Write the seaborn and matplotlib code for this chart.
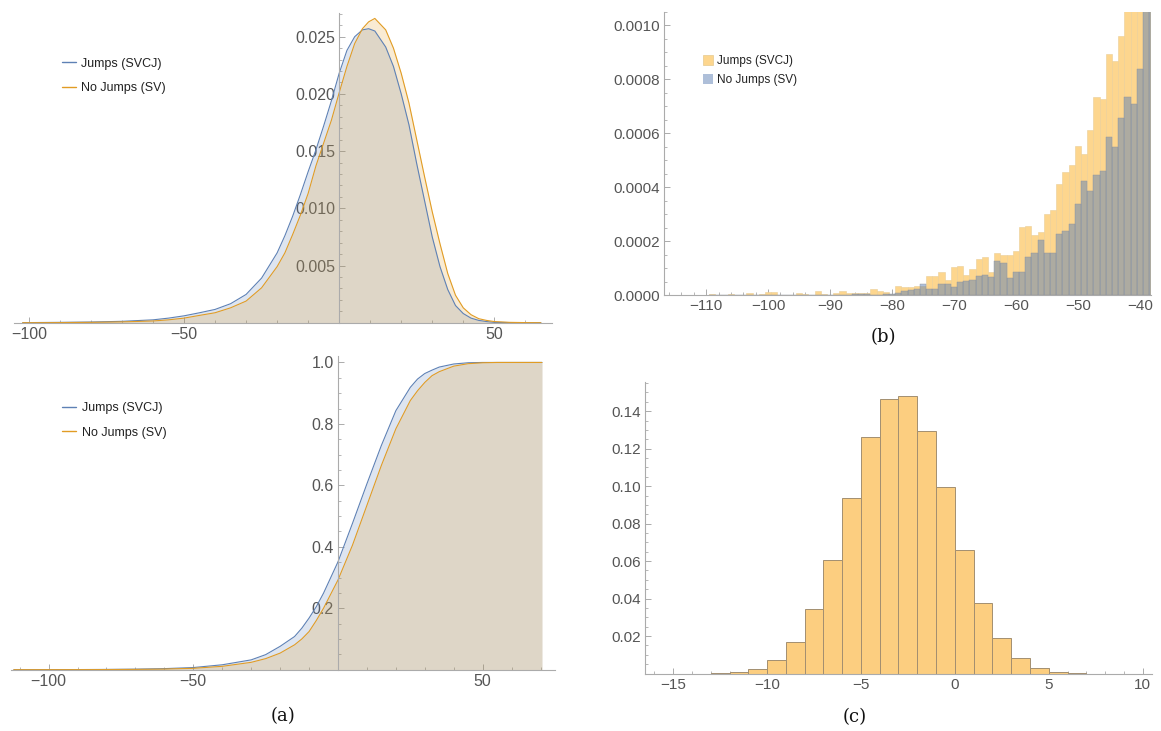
import numpy as np
import pandas as pd
import matplotlib
matplotlib.use("Agg")
import matplotlib.pyplot as plt
import seaborn as sns
from matplotlib.patches import Patch
from matplotlib.ticker import MultipleLocator, FixedLocator

# ---------------- data ----------------
# (a) top: density of returns
pdf_x = [-102, -100, -90, -80, -70, -60, -55, -50, -45, -40,
         -35, -30, -25, -20, -17.5, -15, -12.5, -10, -7.5, -5,
         -2.5, 0, 2.5, 5, 7.5, 9.5, 11.5, 15, 17.5, 20,
         22.5, 25, 27.5, 30, 32.5, 35, 37.5, 40, 42.5, 45,
         47.5, 50, 55, 60, 65]
pdf_svcj = [0, 0.00001, 0.00003, 0.00006, 0.00012, 0.00025, 0.0004, 0.0006, 0.00087, 0.00116,
            0.00166, 0.00247, 0.0039, 0.0061, 0.0076, 0.0093, 0.0112, 0.0132, 0.0151, 0.0172,
            0.0194, 0.0218, 0.0238, 0.0250, 0.0256, 0.0257, 0.0255, 0.0241, 0.0224, 0.0200,
            0.0173, 0.0139, 0.0107, 0.0075, 0.0049, 0.0029, 0.0015, 0.0008, 0.0004, 0.0002,
            0.0001, 0.00003, 0.00001, 0, 0]
pdf_sv = [0, 0, 0.00001, 0.00003, 0.00007, 0.00015, 0.00025, 0.0004, 0.00064, 0.00087,
          0.0013, 0.00189, 0.00305, 0.0049, 0.0061, 0.0077, 0.0094, 0.0113, 0.0137, 0.0157,
          0.0177, 0.0201, 0.0224, 0.0244, 0.0257, 0.0263, 0.0266, 0.0256, 0.0240, 0.0218,
          0.0192, 0.0160, 0.0128, 0.0097, 0.0069, 0.0043, 0.0024, 0.0013, 0.0007, 0.00035,
          0.0002, 0.0001, 0.00003, 0.00001, 0]

# (a) bottom: cumulative distribution
cdf_x = [-112, -100, -90, -80, -70, -60, -50, -40, -30, -25,
         -20, -15, -12.5, -10, -7.5, -5, 0, 5, 10, 15,
         20, 25, 27.5, 30, 32.5, 35, 40, 45, 50, 55,
         60, 70.5]
cdf_svcj = [0, 0.0002, 0.0004, 0.0009, 0.0018, 0.0035, 0.007, 0.016, 0.032, 0.049,
            0.076, 0.108, 0.135, 0.168, 0.205, 0.249, 0.351, 0.476, 0.605, 0.73,
            0.843, 0.919, 0.946, 0.964, 0.975, 0.985, 0.995, 0.999, 1.0, 1.0,
            1.0, 1.0]
cdf_sv = [0, 0.0001, 0.0002, 0.0005, 0.001, 0.002, 0.0045, 0.011, 0.024, 0.036,
          0.054, 0.081, 0.1, 0.124, 0.16, 0.2, 0.292, 0.405, 0.535, 0.665,
          0.784, 0.876, 0.908, 0.935, 0.957, 0.970, 0.988, 0.996, 0.999, 1.0,
          1.0, 1.0]

# (b) left-tail histogram, bin centres and heights (units of 1e-4)
b_centers = list(range(-109, -37))
b_svcj_e4 = [0.05, 0, 0, 0.05, 0, 0, 0.07, 0, 0.04, 0.11,
             0.11, 0, 0, 0, 0.07, 0.04, 0, 0.15, 0.04, 0,
             0.07, 0.15, 0.07, 0.07, 0.07, 0.07, 0.22, 0.15, 0.10, 0.02,
             0.33, 0.28, 0.31, 0.35, 0.33, 0.70, 0.70, 0.84, 0.56, 1.05,
             1.09, 0.74, 0.95, 1.35, 1.42, 0.86, 1.54, 1.48, 1.47, 1.62,
             2.53, 2.57, 2.21, 2.32, 2.99, 3.17, 4.10, 4.57, 4.81, 5.52,
             5.22, 6.11, 7.35, 7.28, 8.95, 8.70, 9.60, 11.5, 12.5, 13.5,
             15.0, 16.0]
b_sv_e4 = [0, 0, 0, 0, 0, 0, 0, 0, 0, 0,
           0, 0, 0, 0, 0, 0, 0, 0, 0, 0,
           0, 0, 0, 0.02, 0.03, 0.02, 0, 0, 0.02, 0.02,
           0.06, 0.15, 0.19, 0.21, 0.40, 0.23, 0.23, 0.40, 0.40, 0.31,
           0.47, 0.52, 0.56, 0.70, 0.74, 0.68, 1.26, 1.17, 0.64, 0.86,
           0.86, 1.42, 1.54, 2.04, 1.54, 1.54, 2.25, 2.37, 2.62, 3.37,
           4.22, 3.85, 4.44, 4.60, 5.86, 5.49, 6.57, 7.35, 7.10, 8.40,
           11.0, 12.0]

# (c) histogram
c_left_edges = list(range(-13, 7))
c_vals = [0.0003, 0.001, 0.0026, 0.007, 0.0168, 0.0344, 0.0608, 0.0938, 0.1262, 0.1465,
          0.1482, 0.1297, 0.0993, 0.0658, 0.0377, 0.019, 0.0081, 0.0031, 0.0009, 0.0003]

# tick labels
a_xticks = [-100, -50, 50]
a_xticklabels = ["\u2212100", "\u221250", "50"]
a1_yticks = [0.005, 0.010, 0.015, 0.020, 0.025]
a1_yticklabels = ["0.005", "0.010", "0.015", "0.020", "0.025"]
a2_yticks = [0.2, 0.4, 0.6, 0.8, 1.0]
a2_yticklabels = ["0.2", "0.4", "0.6", "0.8", "1.0"]
b_xticks = [-110, -100, -90, -80, -70, -60, -50, -40]
b_xticklabels = ["\u2212110", "\u2212100", "\u221290", "\u221280", "\u221270", "\u221260", "\u221250", "\u221240"]
b_yticks = [0, 0.0002, 0.0004, 0.0006, 0.0008, 0.0010]
b_yticklabels = ["0.0000", "0.0002", "0.0004", "0.0006", "0.0008", "0.0010"]
c_xticks = [-15, -10, -5, 0, 5, 10]
c_xticklabels = ["\u221215", "\u221210", "\u22125", "0", "5", "10"]
c_yticks = [0.02, 0.04, 0.06, 0.08, 0.10, 0.12, 0.14]
c_yticklabels = ["0.02", "0.04", "0.06", "0.08", "0.10", "0.12", "0.14"]

labels = ["Jumps (SVCJ)", "No Jumps (SV)"]

# ---------------- style ----------------
sns.set_theme(style="white")
plt.rcParams["font.family"] = ["Liberation Sans", "DejaVu Sans"]

BLUE = (0.368, 0.507, 0.710)
ORANGE = (0.881, 0.611, 0.142)
BAR_ORANGE = "#FDD68E"
BAR_ORANGE_C = "#FCCE80"
AXCOL = "#ababab"
LABCOL = "#555555"
LEGCOL = "#222222"

W, H = 1161.0, 731.0
fig = plt.figure(figsize=(W / 100, H / 100), dpi=100)


def box(l, r, t, b):
    return [l / W, 1 - b / H, (r - l) / W, (b - t) / H]


def style(ax, xorigin=None, size=11):
    for s in ["top", "right"]:
        ax.spines[s].set_visible(False)
    for s in ["left", "bottom"]:
        ax.spines[s].set_color(AXCOL)
        ax.spines[s].set_linewidth(0.8)
    if xorigin is not None:
        ax.spines["left"].set_position(("data", xorigin))
    ax.tick_params(which="both", direction="in", color=AXCOL, labelcolor=LABCOL,
                   labelsize=size, pad=3, left=True, bottom=True)
    ax.tick_params(which="major", length=4, width=0.7)
    ax.tick_params(which="minor", length=2.2, width=0.6)
    ax.set_xlabel("")
    ax.set_ylabel("")
    ax.grid(False)


def line_legend(ax, anchor):
    leg = ax.legend(loc="upper left", bbox_to_anchor=anchor, frameon=False, fontsize=9,
                    handlelength=1.1, handletextpad=0.45, labelspacing=1.0, borderpad=0,
                    borderaxespad=0)
    for t in leg.get_texts():
        t.set_color(LEGCOL)
    for ln, col in zip(leg.get_lines(), [BLUE, ORANGE]):
        ln.set_color(col)
        ln.set_linewidth(1.0)


# ---- (a) top: PDF ----
ax1 = fig.add_axes(box(14, 552, 12.7, 322.7))
ax1.fill_between(pdf_x, pdf_svcj, color=BLUE, alpha=0.2, lw=0)
ax1.fill_between(pdf_x, pdf_sv, color=ORANGE, alpha=0.2, lw=0)
sns.lineplot(x=pdf_x, y=pdf_svcj, ax=ax1, color=BLUE, lw=0.8, label=labels[0], estimator=None)
sns.lineplot(x=pdf_x, y=pdf_sv, ax=ax1, color=ORANGE, lw=0.8, label=labels[1], estimator=None)
ax1.set_xlim(-104.8, 68.6)
ax1.set_ylim(0, 0.0271)
style(ax1, xorigin=0, size=11.5)
ax1.xaxis.set_major_locator(FixedLocator(a_xticks))
ax1.set_xticklabels(a_xticklabels)
ax1.xaxis.set_minor_locator(MultipleLocator(10))
ax1.yaxis.set_major_locator(FixedLocator(a1_yticks))
ax1.set_yticklabels(a1_yticklabels)
ax1.yaxis.set_minor_locator(MultipleLocator(0.001))
line_legend(ax1, (0.089, 0.855))

# ---- (a) bottom: CDF ----
ax2 = fig.add_axes(box(11, 555, 356, 669.7))
ax2.fill_between(cdf_x, cdf_svcj, color=BLUE, alpha=0.2, lw=0)
ax2.fill_between(cdf_x, cdf_sv, color=ORANGE, alpha=0.2, lw=0)
sns.lineplot(x=cdf_x, y=cdf_svcj, ax=ax2, color=BLUE, lw=0.8, label=labels[0], estimator=None)
sns.lineplot(x=cdf_x, y=cdf_sv, ax=ax2, color=ORANGE, lw=0.8, label=labels[1], estimator=None)
ax2.set_xlim(-113, 75)
ax2.set_ylim(0, 1.021)
style(ax2, xorigin=0, size=11.5)
ax2.xaxis.set_major_locator(FixedLocator(a_xticks))
ax2.set_xticklabels(a_xticklabels)
ax2.xaxis.set_minor_locator(MultipleLocator(10))
ax2.yaxis.set_major_locator(FixedLocator(a2_yticks))
ax2.set_yticklabels(a2_yticklabels)
ax2.yaxis.set_minor_locator(MultipleLocator(0.05))
line_legend(ax2, (0.094, 0.853))

# ---- (b) tail histogram ----
axb = fig.add_axes(box(664, 1151, 12, 295))
b_edges = [c - 0.5 for c in b_centers] + [b_centers[-1] + 0.5]
df_b = pd.DataFrame({"x": b_centers,
                     "svcj": np.array(b_svcj_e4) * 1e-4,
                     "sv": np.array(b_sv_e4) * 1e-4})
sns.histplot(data=df_b, x="x", weights="svcj", bins=b_edges, ax=axb,
             color=BAR_ORANGE, alpha=1.0, edgecolor="#ebcf98", linewidth=0.4)
sns.histplot(data=df_b, x="x", weights="sv", bins=b_edges, ax=axb,
             color=BLUE, alpha=0.5, edgecolor="#8d929c", linewidth=0.3)
axb.set_xlim(-116.8, -38.2)
axb.set_ylim(0, 0.00105)
style(axb, size=11)
axb.xaxis.set_major_locator(FixedLocator(b_xticks))
axb.set_xticklabels(b_xticklabels)
axb.xaxis.set_minor_locator(MultipleLocator(2))
axb.yaxis.set_major_locator(FixedLocator(b_yticks))
axb.set_yticklabels(b_yticklabels)
axb.yaxis.set_minor_locator(MultipleLocator(0.00005))
handles = [Patch(facecolor=BAR_ORANGE, edgecolor="#e6c98f", lw=0.5),
           Patch(facecolor=BLUE, alpha=0.5, edgecolor="none")]
legb = axb.legend(handles, labels, loc="upper left", bbox_to_anchor=(0.080, 0.848),
                  frameon=False, fontsize=8.5, handlelength=0.85, handleheight=0.85,
                  handletextpad=0.3, labelspacing=0.6, borderpad=0, borderaxespad=0)
for t in legb.get_texts():
    t.set_color(LEGCOL)

# ---- (c) histogram ----
axc = fig.add_axes(box(645, 1152, 382, 673.5))
c_edges = list(c_left_edges) + [c_left_edges[-1] + 1]
df_c = pd.DataFrame({"x": [e + 0.5 for e in c_left_edges], "w": c_vals})
sns.histplot(data=df_c, x="x", weights="w", bins=c_edges, ax=axc, color=BAR_ORANGE_C,
             alpha=1.0, edgecolor="#a38f70", linewidth=0.7)
axc.set_xlim(-16.5, 10.5)
axc.set_ylim(0, 0.1556)
style(axc, size=11)
axc.xaxis.set_major_locator(FixedLocator(c_xticks))
axc.set_xticklabels(c_xticklabels)
axc.xaxis.set_minor_locator(MultipleLocator(1))
axc.yaxis.set_major_locator(FixedLocator(c_yticks))
axc.set_yticklabels(c_yticklabels)
axc.yaxis.set_minor_locator(MultipleLocator(0.005))

# ---- captions ----
for txt, x, y in [("(a)", 283, 716), ("(b)", 883, 337), ("(c)", 855, 717)]:
    fig.text(x / W, 1 - y / H, txt, ha="center", va="center", fontsize=13,
             family=["DejaVu Serif"], color="#111111")

fig.savefig("out.png", dpi=100)
